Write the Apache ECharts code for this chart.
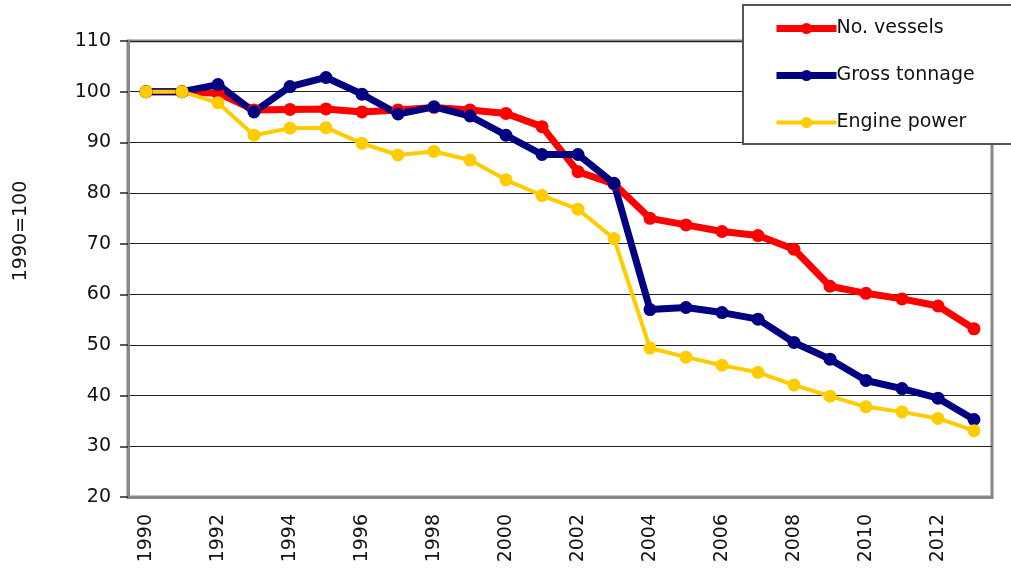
<!DOCTYPE html>
<html>
<head>
<meta charset="utf-8">
<script src="https://cdn.jsdelivr.net/npm/echarts@6/dist/echarts.min.js"></script>
<style>
  html, body { margin: 0; padding: 0; background: #fff; }
  #main { width: 1011px; height: 569px; }
</style>
</head>
<body>
<div id="main"></div>
<script>
// data (index, 1990 = 100)
const years = ['1990','1991','1992','1993','1994','1995','1996','1997','1998','1999','2000','2001',
               '2002','2003','2004','2005','2006','2007','2008','2009','2010','2011','2012','2013']
const vessels = [100, 100, 99.7, 96.4, 96.5, 96.6, 96.0, 96.4, 96.9, 96.4, 95.7, 93.1,
                 84.2, 81.8, 75.0, 73.7, 72.4, 71.6, 68.9, 61.6, 60.2, 59.1, 57.7, 53.2]
const tonnage = [100, 100, 101.4, 96.0, 101.0, 102.8, 99.5, 95.6, 97.0, 95.2, 91.4, 87.6,
                 87.6, 81.9, 57.0, 57.4, 56.4, 55.1, 50.5, 47.2, 43.0, 41.4, 39.5, 35.3]
const power = [100, 100, 97.8, 91.4, 92.8, 92.9, 89.8, 87.5, 88.2, 86.5, 82.6, 79.5,
               76.8, 71.0, 49.4, 47.6, 46.0, 44.6, 42.1, 39.9, 37.8, 36.8, 35.5, 33.1]

const font = 'DejaVu Sans'
const colors = ['#ff0000', '#000080', '#ffcc00']
const widths = [7, 7, 4]
const names = ['No. vessels', 'Gross tonnage', 'Engine power']

function makeSeries(i, data) {
    return {
        name: names[i],
        type: 'line',
        data: data,
        symbol: 'circle',
        symbolSize: 13,
        lineStyle: { color: colors[i], width: widths[i] },
        itemStyle: { color: colors[i] },
        emphasis: { disabled: true },
        animation: false
    }
}

const option = {
    backgroundColor: '#fff',
    textStyle: { fontFamily: font },
    grid: {
        left: 128, right: 19, top: 41, bottom: 72,
        show: true,
        borderColor: '#888',
        borderWidth: 3,
        backgroundColor: 'transparent'
    },
    legend: {
        orient: 'vertical',
        left: 743,
        top: 5,
        padding: [14, 80, 12, 30],
        backgroundColor: '#fff',
        borderColor: '#555',
        borderWidth: 2,
        itemWidth: 60,
        itemHeight: 14,
        itemGap: 28,
        textStyle: { fontFamily: font, fontSize: 19, color: '#111', padding: [0, 0, 0, -5] },
        data: names.map((n, i) => ({
            name: n,
            lineStyle: { color: colors[i], width: widths[i] },
            itemStyle: { color: colors[i] }
        }))
    },
    xAxis: {
        type: 'category',
        data: years,
        boundaryGap: true,
        axisLine: { lineStyle: { color: '#888', width: 3 } },
        axisTick: { interval: 0, length: 8, lineStyle: { color: '#222', width: 1.5 } },
        axisLabel: { interval: 1, rotate: 90, fontSize: 19, color: '#111', margin: 17 }
    },
    yAxis: {
        type: 'value',
        min: 20, max: 110, interval: 10,
        name: '1990=100',
        nameLocation: 'middle',
        nameGap: 97,
        nameTextStyle: { fontSize: 19, color: '#111', padding: [0, 0, 0, 76] },
        axisLine: { show: true, lineStyle: { color: '#888', width: 3 } },
        axisTick: { show: true, length: 8, lineStyle: { color: '#222', width: 1.5 } },
        axisLabel: { fontSize: 19, color: '#111', margin: 17 },
        splitLine: { lineStyle: { color: '#222', width: 1 } }
    },
    series: [
        makeSeries(0, vessels),
        makeSeries(1, tonnage),
        makeSeries(2, power)
    ]
}

const chart = echarts.init(document.getElementById('main'))
chart.setOption(option)
</script>
</body>
</html>
